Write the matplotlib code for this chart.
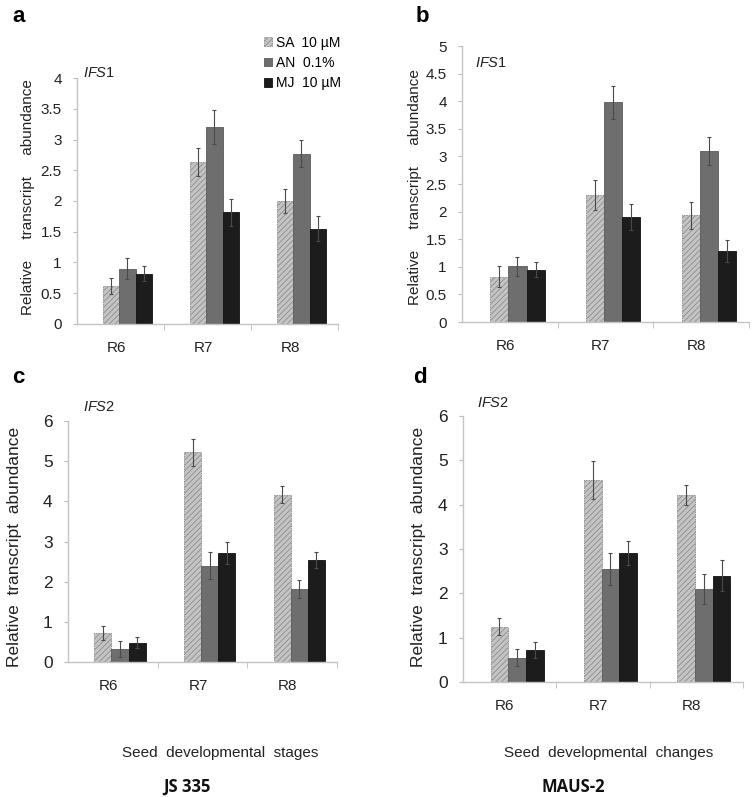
import numpy as np
import matplotlib
matplotlib.use("Agg")
import matplotlib.pyplot as plt

plt.rcParams['font.family'] = ['Liberation Sans', 'DejaVu Sans']
plt.rcParams['hatch.linewidth'] = 0.6
plt.rcParams['mathtext.fontset'] = 'custom'
plt.rcParams['mathtext.it'] = 'Liberation Sans:italic'
plt.rcParams['mathtext.rm'] = 'Liberation Sans'

# dados
stages = ['R6', 'R7', 'R8']
treatments = ['SA  10 \u00b5M', 'AN  0.1%', 'MJ  10 \u00b5M']

a_sa = [0.62, 2.63, 2.00]
a_an = [0.90, 3.20, 2.77]
a_mj = [0.82, 1.82, 1.55]
a_sa_err = [0.13, 0.23, 0.20]
a_an_err = [0.17, 0.28, 0.22]
a_mj_err = [0.12, 0.22, 0.20]

b_sa = [0.82, 2.30, 1.93]
b_an = [1.01, 3.98, 3.10]
b_mj = [0.95, 1.90, 1.28]
b_sa_err = [0.19, 0.28, 0.25]
b_an_err = [0.17, 0.30, 0.25]
b_mj_err = [0.13, 0.23, 0.20]

c_sa = [0.72, 5.22, 4.17]
c_an = [0.33, 2.40, 1.82]
c_mj = [0.48, 2.72, 2.53]
c_sa_err = [0.17, 0.33, 0.22]
c_an_err = [0.20, 0.33, 0.23]
c_mj_err = [0.13, 0.27, 0.20]

d_sa = [1.25, 4.55, 4.22]
d_an = [0.55, 2.55, 2.10]
d_mj = [0.72, 2.90, 2.40]
d_sa_err = [0.20, 0.43, 0.23]
d_an_err = [0.20, 0.37, 0.33]
d_mj_err = [0.18, 0.27, 0.35]

fig = plt.figure(figsize=(7.53, 7.97), dpi=100)

W = 753.0
H = 797.0

def make_ax(x0, x1, y0, y1):
    # caixa em pixels -> fração da figura
    return fig.add_axes([x0 / W, 1 - y1 / H, (x1 - x0) / W, (y1 - y0) / H])

styles = [
    dict(color='#c4c4c4', edgecolor='#8c8c8c', hatch='//////', linewidth=0.6, linestyle=(0, (2, 1))),
    dict(color='#6e6e6e', edgecolor='#5a5a5a', linewidth=0.6),
    dict(color='#1c1c1c', edgecolor='#111111', linewidth=0.6),
]

def panel(ax, series, errs, ymax, ystep, tick_fs):
    x = np.arange(len(stages))
    w = 0.19
    for i, (vals, err) in enumerate(zip(series, errs)):
        pos = x + 0.08 + (i - 1) * w
        ax.bar(pos, vals, width=w, label=treatments[i], **styles[i])
        ax.errorbar(pos, vals, yerr=err, fmt='none', ecolor='#4a4a4a',
                    elinewidth=0.8, capsize=1.5, capthick=0.8)
    ax.set_xlim(-0.5, 2.5)
    ax.set_ylim(0, ymax)
    yt = np.arange(0, ymax + 0.001, ystep)
    ax.set_yticks(yt)
    ax.set_yticklabels(['%g' % v for v in yt], fontsize=tick_fs, color='#222222')
    ax.set_xticks(x - 0.05)
    ax.set_xticklabels(stages, fontsize=11, color='#222222')
    ax.set_xticks([0.5, 1.5, 2.5], minor=True)
    ax.tick_params(axis='x', which='major', length=0, pad=12)
    ax.tick_params(axis='x', which='minor', length=4, color='#bbbbbb', direction='out')
    ax.tick_params(axis='y', length=3, color='#bbbbbb', direction='out', pad=8)
    for s in ['top', 'right']:
        ax.spines[s].set_visible(False)
    for s in ['left', 'bottom']:
        ax.spines[s].set_color('#c4c4c4')
        ax.spines[s].set_linewidth(1.0)

ax_a = make_ax(77, 338, 78, 324)
panel(ax_a, [a_sa, a_an, a_mj], [a_sa_err, a_an_err, a_mj_err], 4, 0.5, 11)

ax_b = make_ax(462, 749, 46, 322)
panel(ax_b, [b_sa, b_an, b_mj], [b_sa_err, b_an_err, b_mj_err], 5, 0.5, 11)

ax_c = make_ax(68, 337, 421, 662)
panel(ax_c, [c_sa, c_an, c_mj], [c_sa_err, c_an_err, c_mj_err], 6, 1, 12.5)

ax_d = make_ax(463, 743, 416, 682)
panel(ax_d, [d_sa, d_an, d_mj], [d_sa_err, d_an_err, d_mj_err], 6, 1, 12.5)

# legenda do painel a
leg = ax_a.legend(loc='upper left', bbox_to_anchor=(258 / W, 1 - 30 / H), bbox_transform=fig.transFigure,
                  frameon=False, fontsize=10, handlelength=0.6, handleheight=0.6,
                  handletextpad=0.3, labelspacing=0.45, borderaxespad=0)

# letras dos painéis
for lab, px, py in [('a', 12, 16), ('b', 416, 16), ('c', 12, 378), ('d', 413, 378)]:
    fig.text(px / W, 1 - py / H, lab, fontsize=16, fontweight='bold', ha='left', va='center')

# rótulos dos genes
for num, px, py in [('1', 83, 73), ('1', 475, 63), ('2', 83, 407), ('2', 477, 403)]:
    fig.text(px / W, 1 - py / H, r'$\mathit{IFS}$' + num, fontsize=10.5,
             ha='left', va='center', color='#222222')

# rótulo do eixo y
ylab_ab = 'Relative     transcript     abundance'
for px, py in [(28, 197), (415, 187)]:
    fig.text(px / W, 1 - py / H, ylab_ab, rotation=90, fontsize=11, ha='center', va='center', color='#222222')
ylab_cd = 'Relative  transcript  abundance'
for px, py in [(15, 547), (419, 547)]:
    fig.text(px / W, 1 - py / H, ylab_cd, rotation=90, fontsize=12.5, ha='center', va='center', color='#222222')

fig.text(220 / W, 1 - 753 / H, 'Seed  developmental  stages', fontsize=11, ha='center', va='center', color='#222222')
fig.text(609 / W, 1 - 753 / H, 'Seed  developmental  changes', fontsize=11, ha='center', va='center', color='#222222')
fig.text(187 / W, 1 - 787 / H, 'JS 335', fontsize=12, fontweight='bold', family=['Open Sans', 'DejaVu Sans'],
         ha='center', va='center', color='#111111')
fig.text(573 / W, 1 - 787 / H, 'MAUS-2', fontsize=12, fontweight='bold', family=['Open Sans', 'DejaVu Sans'],
         ha='center', va='center', color='#111111')

fig.savefig('out.png', dpi=100)
